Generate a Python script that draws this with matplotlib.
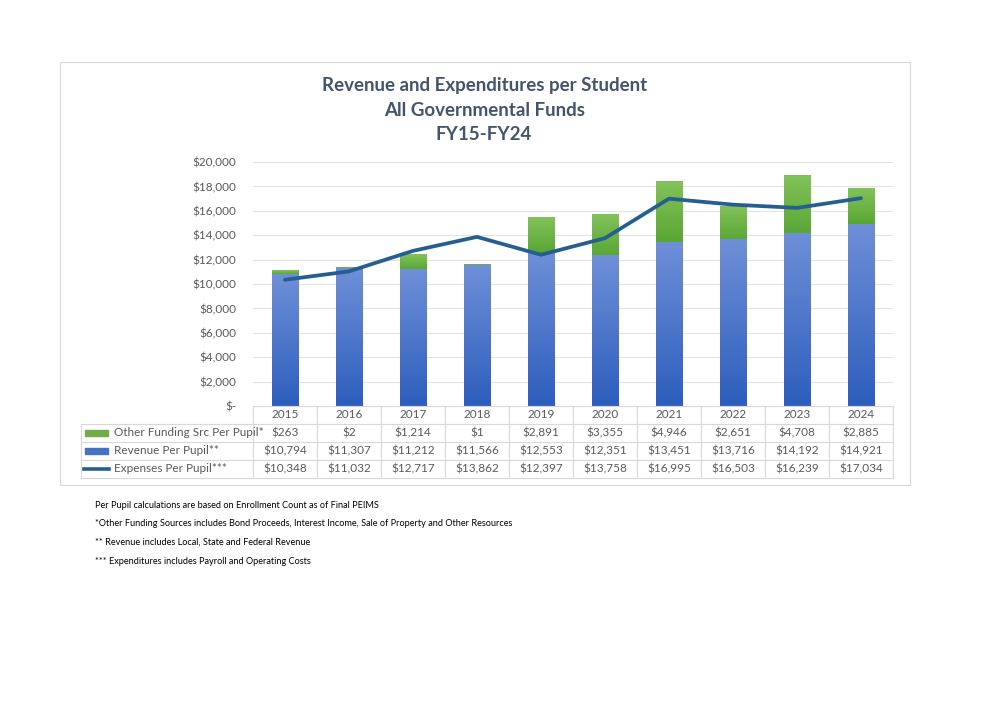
import matplotlib.pyplot as plt
import numpy as np
from matplotlib.colors import LinearSegmentedColormap
from matplotlib.patches import Rectangle

############################## Datos ##############################
years = ['2015', '2016', '2017', '2018', '2019', '2020', '2021', '2022', '2023', '2024']
other = [263, 2, 1214, 1, 2891, 3355, 4946, 2651, 4708, 2885]
revenue = [10794, 11307, 11212, 11566, 12553, 12351, 13451, 13716, 14192, 14921]
expenses = [10348, 11032, 12717, 13862, 12397, 13758, 16995, 16503, 16239, 17034]

row_labels = ['Other Funding Src Per Pupil*', 'Revenue Per Pupil**', 'Expenses Per Pupil***']
notes = ['Per Pupil calculations are based on Enrollment Count as of Final PEIMS',
         '*Other Funding Sources includes Bond Proceeds, Interest Income, Sale of Property and Other Resources',
         '** Revenue includes Local, State and Federal Revenue',
         '*** Expenditures includes Payroll and Operating Costs']

title_lines = ['Revenue and Expenditures per Student', 'All Governmental Funds', 'FY15-FY24']

W, H = 983, 727
font = 'Lato'
blue_cm = LinearSegmentedColormap.from_list('b', ['#2d5ebd', '#6f8fd8'])
green_cm = LinearSegmentedColormap.from_list('g', ['#5aa735', '#82c25a'])
line_col = '#255e91'
grid_col = '#e3e3e3'
txt_col = '#595959'

def fx(px):
     return px / W

def fy(py):
     return 1 - py / H

fig = plt.figure(figsize=(W / 100, H / 100), dpi=100)

# marco del grafico
fig.patches.append(Rectangle((fx(60), fy(485)), fx(910) - fx(60), fy(62) - fy(485),
                             transform=fig.transFigure, fill=False, ec='#d9d9d9', lw=0.8))

for i, t in enumerate(title_lines):
     fig.text(0.4925, fy(86 + 24 * i), t, ha='center', va='center', fontsize=13.5,
              fontweight='bold', color='#44546a', family=font)

ax = fig.add_axes([fx(253), fy(406), fx(893) - fx(253), fy(162) - fy(406)])
x = np.arange(len(years))
bw = 0.42

grad = np.linspace(0, 1, 100).reshape(-1, 1)
for i in range(len(years)):
     ax.imshow(grad, cmap=blue_cm, origin='lower', aspect='auto', zorder=2,
               extent=(x[i] - bw / 2, x[i] + bw / 2, 0, revenue[i]))
     ax.imshow(grad, cmap=green_cm, origin='lower', aspect='auto', zorder=2,
               extent=(x[i] - bw / 2, x[i] + bw / 2, revenue[i], revenue[i] + other[i]))
ax.set_xlim(-0.5, len(years) - 0.5)
ax.set_ylim(0, 20000)

ax.plot(x, expenses, color=line_col, lw=2.7, zorder=3, solid_capstyle='round',
        solid_joinstyle='round')

yt = np.arange(0, 20001, 2000)
ax.set_yticks(yt)
ax.set_yticklabels(['$-'] + [f'${v:,}' for v in yt[1:]], fontsize=8.5, color=txt_col, family=font)
ax.set_xticks([])
ax.tick_params(axis='y', length=0, pad=12)
ax.grid(axis='y', color=grid_col, lw=0.8, zorder=0)
ax.set_axisbelow(True)
for s in ax.spines.values():
     s.set_visible(False)

############################ Tabla de datos ###########################
col_edges = [253 + 64 * k for k in range(len(years) + 1)]
row_edges = [406, 424, 442, 460, 478]
tbl_left = 81
lc = '#d9d9d9'

def hline(py, x0, x1):
     fig.add_artist(plt.Line2D([fx(x0), fx(x1)], [fy(py), fy(py)], color=lc, lw=0.8))

def vline(px, y0, y1):
     fig.add_artist(plt.Line2D([fx(px), fx(px)], [fy(y0), fy(y1)], color=lc, lw=0.8))

hline(row_edges[0], col_edges[0], col_edges[-1])
for py in row_edges[1:]:
     hline(py, tbl_left, col_edges[-1])
vline(tbl_left, row_edges[1], row_edges[-1])
for px in col_edges:
     vline(px, row_edges[0], row_edges[-1])

for j, yr in enumerate(years):
     cx = (col_edges[j] + col_edges[j + 1]) / 2
     fig.text(fx(cx), fy(415), yr, ha='center', va='center', fontsize=8.5, color=txt_col, family=font)
     for r, vals in enumerate([other, revenue, expenses]):
          cy = (row_edges[r + 1] + row_edges[r + 2]) / 2
          fig.text(fx(cx), fy(cy), f'${vals[j]:,}', ha='center', va='center', fontsize=8.5,
                   color=txt_col, family=font)

for r, lab in enumerate(row_labels):
     cy = (row_edges[r + 1] + row_edges[r + 2]) / 2
     fig.text(fx(114), fy(cy), lab, ha='left', va='center', fontsize=8.5, color=txt_col, family=font)

# claves de la leyenda
fig.patches.append(Rectangle((fx(85), fy(435.5)), fx(108) - fx(85), fy(430) - fy(435.5),
                             transform=fig.transFigure, color='#70ad47'))
fig.patches.append(Rectangle((fx(85), fy(453.5)), fx(108) - fx(85), fy(448) - fy(453.5),
                             transform=fig.transFigure, color='#4472c4'))
fig.add_artist(plt.Line2D([fx(84), fx(109)], [fy(469), fy(469)], color=line_col, lw=2.6))

############################ Notas ###########################
for i, n in enumerate(notes):
     fig.text(fx(95), fy(505 + 18.7 * i), n, ha='left', va='center', fontsize=6.6,
              color='black', family=font)

fig.savefig('out.png', dpi=100)
